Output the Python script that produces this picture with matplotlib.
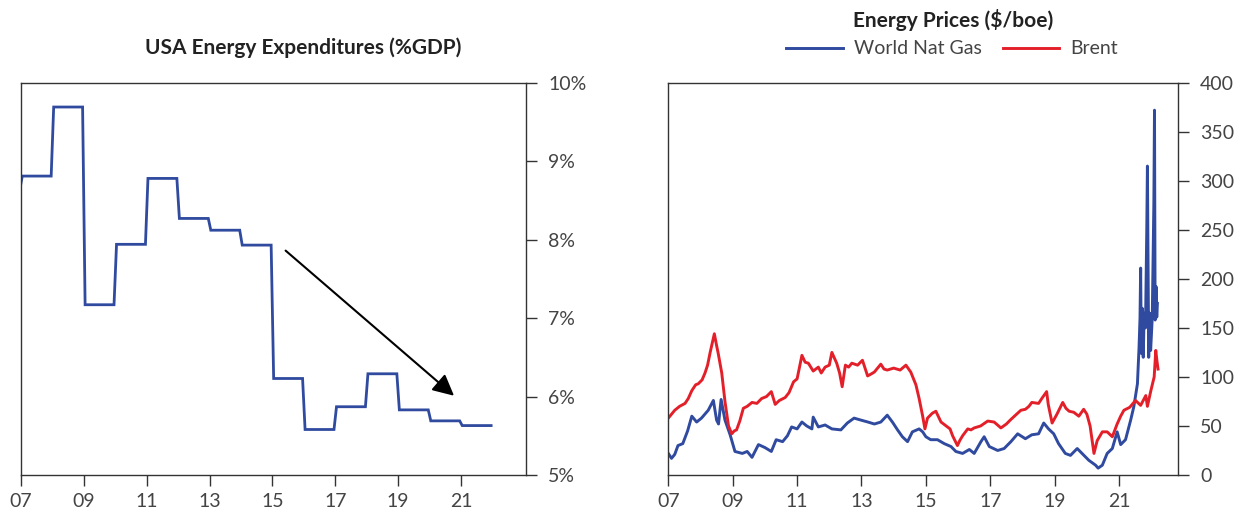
import matplotlib
matplotlib.use('Agg')
import matplotlib.pyplot as plt
from matplotlib.ticker import FixedLocator

plt.rcParams['font.family'] = ['Lato', 'DejaVu Sans']

BLUE = '#2F4A9E'
RED = '#E3202A'
INK = '#333333'

# USA energy expenditures (% of GDP), one value per year
exp_years = [2007, 2008, 2009, 2010, 2011, 2012, 2013, 2014,
             2015, 2016, 2017, 2018, 2019, 2020, 2021]
exp_pct = [8.81, 9.69, 7.17, 7.94, 8.78, 8.27, 8.12, 7.93,
           6.23, 5.58, 5.87, 6.29, 5.83, 5.69, 5.63]
exp_start = 8.72

# arrow (trend) in data coords
arrow_from = (2015.42, 7.86)
arrow_to = (2020.78, 6.01)

# Brent, $/boe
brent_t = [2007.0, 2007.1, 2007.2, 2007.35, 2007.52, 2007.62, 2007.73, 2007.85, 2007.93,
           2008.05, 2008.14, 2008.22, 2008.3, 2008.43, 2008.5, 2008.55, 2008.66, 2008.76,
           2008.87, 2008.97, 2009.05, 2009.12, 2009.22, 2009.33, 2009.45, 2009.6, 2009.75,
           2009.9, 2010.05, 2010.2, 2010.32, 2010.45, 2010.63, 2010.75, 2010.89, 2011.0,
           2011.15, 2011.25, 2011.35, 2011.5, 2011.66, 2011.75, 2011.87, 2012.0, 2012.08,
           2012.23, 2012.32, 2012.4, 2012.5, 2012.6, 2012.7, 2012.88, 2013.03, 2013.19,
           2013.3, 2013.4, 2013.6, 2013.7, 2013.8, 2014.0, 2014.2, 2014.38, 2014.53,
           2014.69, 2014.79, 2014.9, 2014.97, 2015.05, 2015.2, 2015.31, 2015.47, 2015.67,
           2015.75, 2015.83, 2015.98, 2016.05, 2016.14, 2016.3, 2016.4, 2016.5, 2016.7,
           2016.92, 2017.12, 2017.33, 2017.5, 2017.62, 2017.75, 2017.95, 2018.09, 2018.2,
           2018.29, 2018.5, 2018.6, 2018.75, 2018.8, 2018.92, 2019.07, 2019.25, 2019.35,
           2019.45, 2019.59, 2019.75, 2019.9, 2020.0, 2020.1, 2020.22, 2020.32, 2020.48,
           2020.63, 2020.79, 2020.94, 2021.05, 2021.15, 2021.33, 2021.51, 2021.67, 2021.83,
           2021.88, 2021.98, 2022.09, 2022.14, 2022.17, 2022.21]
brent = [58, 62, 66, 70, 73, 78, 86, 92, 93,
         97, 104, 112, 125, 144, 132, 124, 104, 75,
         50, 42, 45, 46, 55, 68, 70, 74, 73,
         78, 80, 85, 72, 76, 79, 84, 95, 98,
         122, 115, 114, 106, 110, 104, 110, 112, 125,
         114, 104, 90, 112, 110, 114, 112, 117, 101,
         103, 105, 113, 108, 107, 109, 107, 112, 105,
         92, 78, 60, 47, 58, 63, 65, 54, 49,
         47, 40, 30, 35, 40, 47, 46, 48, 50,
         55, 54, 48, 52, 56, 60, 66, 67, 70,
         74, 73, 78, 85, 72, 53, 62, 74, 68,
         65, 64, 60, 67, 62, 50, 22, 35, 44,
         44, 39, 52, 60, 66, 69, 76, 71, 81,
         70, 85, 100, 127, 118, 108]

# World natural gas, $/boe
gas_t = [2007.0, 2007.1, 2007.2, 2007.3, 2007.45, 2007.6, 2007.73, 2007.88, 2008.03,
         2008.24, 2008.4, 2008.5, 2008.56, 2008.64, 2008.76, 2008.92, 2009.07, 2009.3,
         2009.45, 2009.6, 2009.8, 2010.0, 2010.2, 2010.35, 2010.55, 2010.7, 2010.83,
         2011.0, 2011.15, 2011.3, 2011.46, 2011.5, 2011.66, 2011.87, 2012.08, 2012.36,
         2012.56, 2012.77, 2012.98, 2013.2, 2013.4, 2013.6, 2013.8, 2013.96, 2014.12,
         2014.27, 2014.43, 2014.58, 2014.79, 2014.9, 2015.0, 2015.15, 2015.36, 2015.57,
         2015.78, 2015.93, 2016.14, 2016.35, 2016.5, 2016.71, 2016.81, 2016.97, 2017.23,
         2017.43, 2017.64, 2017.85, 2018.09, 2018.29, 2018.5, 2018.66, 2018.81, 2018.97,
         2019.12, 2019.33, 2019.49, 2019.7, 2019.85, 2020.06, 2020.27, 2020.35, 2020.48,
         2020.63, 2020.79, 2020.94, 2021.05, 2021.2, 2021.36, 2021.46, 2021.57, 2021.62,
         2021.65, 2021.67, 2021.69, 2021.72, 2021.75, 2021.78, 2021.82, 2021.86, 2021.88,
         2021.92, 2021.95, 2021.98, 2022.03, 2022.06, 2022.08, 2022.1, 2022.12, 2022.15,
         2022.17, 2022.19]
gas = [22, 17, 21, 30, 32, 45, 60, 54, 58,
       66, 76, 56, 52, 77, 56, 41, 24, 22,
       24, 18, 31, 28, 24, 36, 34, 40, 49,
       47, 54, 50, 47, 59, 49, 51, 47, 46,
       53, 58, 56, 54, 52, 54, 61, 54, 46,
       39, 34, 44, 47, 44, 39, 36, 36, 32,
       29, 24, 22, 26, 22, 34, 39, 29, 25,
       27, 34, 42, 37, 41, 42, 53, 47, 42,
       32, 22, 20, 27, 22, 15, 10, 7, 10,
       22, 27, 44, 31, 36, 56, 70, 93, 130,
       160, 211, 124, 170, 120, 165, 150, 250, 315,
       120, 165, 127, 160, 230, 277, 372, 158, 192,
       161, 175]

year_ticks = [2007, 2009, 2011, 2013, 2015, 2017, 2019, 2021]
year_labels = ['07', '09', '11', '13', '15', '17', '19', '21']
pct_ticks = [5, 6, 7, 8, 9, 10]
pct_labels = ['5%', '6%', '7%', '8%', '9%', '10%']
price_ticks = [0, 50, 100, 150, 200, 250, 300, 350, 400]


def style_axes(ax):
    for s in ax.spines.values():
        s.set_color(INK)
        s.set_linewidth(1.0)
    ax.yaxis.tick_right()
    ax.tick_params(axis='x', direction='out', length=8, width=1, pad=5,
                   labelsize=14, colors=INK, labelcolor='#444444')
    ax.tick_params(axis='y', direction='out', length=8, width=1, pad=8,
                   labelsize=14, colors=INK, labelcolor='#444444')
    ax.xaxis.set_major_locator(FixedLocator(year_ticks))
    ax.set_xticklabels(year_labels)


fig = plt.figure(figsize=(12.47, 5.16), dpi=100)
W, H = 1247, 516
ax1 = fig.add_axes([21 / W, 1 - 475 / H, (526 - 21) / W, (475 - 82.7) / H])
ax2 = fig.add_axes([668.3 / W, 1 - 475 / H, (1178 - 668.3) / W, (475 - 82.7) / H])

# left: step line
xs = [exp_years[0]]
ys = [exp_start]
for yr, v in zip(exp_years, exp_pct):
    xs += [yr + 0.04, yr + 0.96]
    ys += [v, v]
ax1.plot(xs, ys, color=BLUE, lw=2.0, solid_joinstyle='miter')
ax1.annotate('', xy=arrow_to, xytext=arrow_from,
             arrowprops=dict(arrowstyle='-|>', color='black', lw=1.5,
                             mutation_scale=32, shrinkA=0, shrinkB=0))
ax1.set_xlim(2007, 2023.07)
ax1.set_ylim(5, 10)
ax1.yaxis.set_major_locator(FixedLocator(pct_ticks))
ax1.set_yticklabels(pct_labels)
style_axes(ax1)

# right: prices
ax2.plot(gas_t, gas, color=BLUE, lw=2.1, label='World Nat Gas')
ax2.plot(brent_t, brent, color=RED, lw=2.1, label='Brent')
ax2.set_xlim(2007, 2022.83)
ax2.set_ylim(0, 400)
ax2.yaxis.set_major_locator(FixedLocator(price_ticks))
style_axes(ax2)
ax2.legend(loc='center', bbox_to_anchor=(0.5566, 1.086), ncol=2, frameon=False,
           fontsize=14, handlelength=2.9, handletextpad=0.55, columnspacing=1.1,
           labelcolor='#444444')

fig.text(303 / W, 1 - 48 / H, 'USA Energy Expenditures (%GDP)', ha='center', va='center',
         fontsize=15, fontweight='bold', color='#222222')
fig.text(953 / W, 1 - 20 / H, 'Energy Prices ($/boe)', ha='center', va='center',
         fontsize=15, fontweight='bold', color='#222222')

fig.savefig('out.png', dpi=100)
